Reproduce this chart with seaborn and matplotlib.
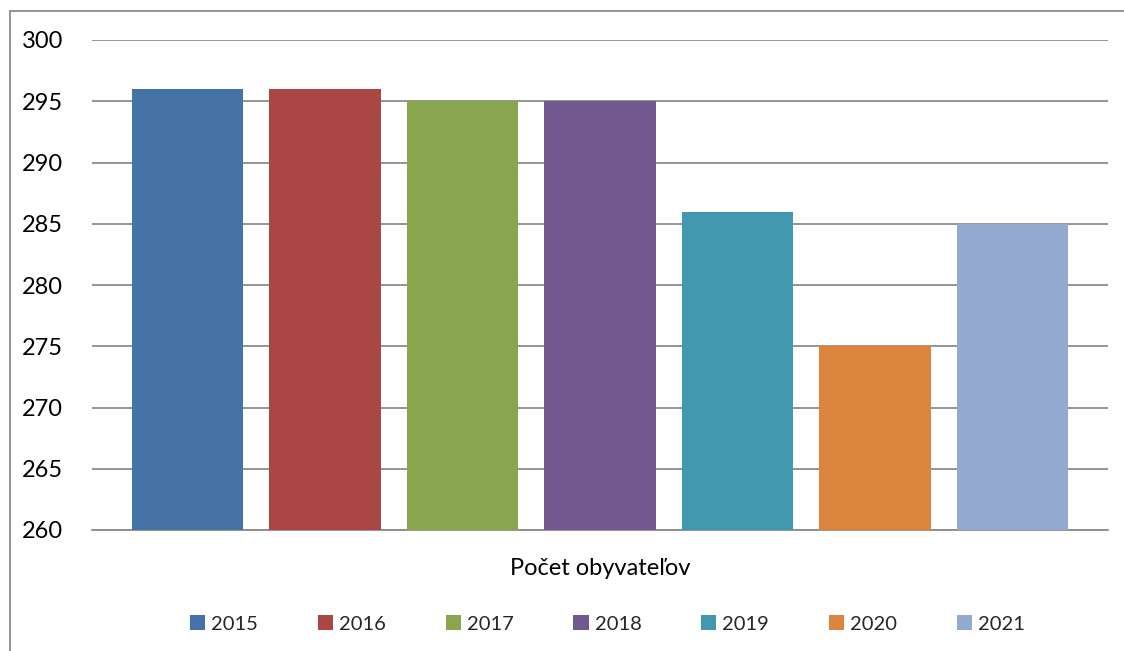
import pandas as pd
import seaborn as sns
import matplotlib.pyplot as plt
from matplotlib.lines import Line2D

category = ["Počet obyvateľov"]
years = ["2015", "2016", "2017", "2018", "2019", "2020", "2021"]
values = [296, 296, 295, 295, 286, 275, 285]
colors = ["#4572A7", "#AA4643", "#89A54E", "#71588F", "#4198AF", "#DB843D", "#93A9CF"]

df = pd.DataFrame({"kategoria": category * len(years), "rok": years, "pocet": values})

sns.set_style("white")
plt.rcParams["font.family"] = ["Lato", "DejaVu Sans"]

fig = plt.figure(figsize=(11.24, 6.51), dpi=100)
ax = fig.add_axes([92 / 1124, 1 - 530 / 651, 1016 / 1124, 490 / 651])

sns.barplot(data=df, x="kategoria", y="pocet", hue="rok", palette=colors, saturation=1,
            width=0.947, gap=0.19, linewidth=0, ax=ax, legend=True, zorder=3)

ax.set_xlim(-0.5, 0.5)
ax.set_ylim(260, 300)
ax.set_yticks(range(260, 301, 5))
ax.yaxis.grid(True, color="#8c8c8c", linewidth=1.3, zorder=0)
ax.set_axisbelow(True)
for s in ["top", "right", "left"]:
    ax.spines[s].set_visible(False)
ax.spines["bottom"].set_color("#8c8c8c")
ax.spines["bottom"].set_linewidth(1.3)
ax.tick_params(axis="y", length=0, pad=21, labelsize=17, labelcolor="black")
ax.tick_params(axis="x", length=0, pad=20, labelsize=17, labelcolor="black")
ax.set_xlabel("")
ax.set_ylabel("")

handles, labels = ax.get_legend_handles_labels()
ax.get_legend().remove()
fig.legend(handles, labels, loc="center", bbox_to_anchor=(0.5405, 0.0415), ncol=7,
           frameon=False, fontsize=14.5, handlelength=0.75, handleheight=0.75,
           handletextpad=0.3, columnspacing=2.97)

# chart frame (only top and left edge visible in the crop)
fig.add_artist(Line2D([10 / 1124, 1], [1 - 11 / 651, 1 - 11 / 651], color="#8c8c8c", lw=1.3,
                      transform=fig.transFigure))
fig.add_artist(Line2D([10 / 1124, 10 / 1124], [0, 1 - 11 / 651], color="#8c8c8c", lw=1.3,
                      transform=fig.transFigure))

fig.savefig("out.png", dpi=100)
